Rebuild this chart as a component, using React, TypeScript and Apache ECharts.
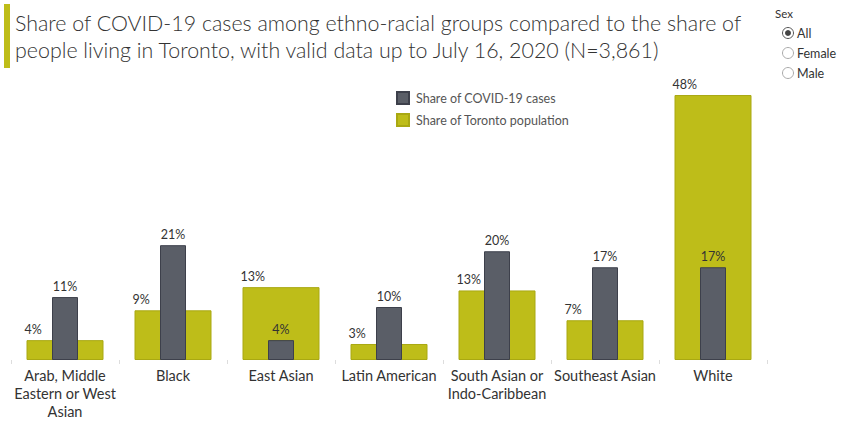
import React, { useEffect, useRef } from "react";
import * as echarts from "echarts";

const categories = [
  "Arab, Middle\nEastern or West\nAsian",
  "Black",
  "East Asian",
  "Latin American",
  "South Asian or\nIndo-Caribbean",
  "Southeast Asian",
  "White",
];
const populationShare = [3.6, 9.0, 13.2, 2.9, 12.6, 7.2, 48.0];
const casesShare = [11.4, 20.8, 3.6, 9.6, 19.7, 16.8, 16.8];
const sexOptions = ["All", "Female", "Male"];

const OLIVE = "#bebd19";
const OLIVE_BORDER = "#a9a812";
const GRAY = "#5a5e67";
const GRAY_BORDER = "#3d404b";
const FONT = "Lato";

export default function App() {
  const ref = useRef<HTMLDivElement>(null);
  useEffect(() => {
    if (!ref.current) return;
    const chart = echarts.init(ref.current, null, { renderer: "svg" });
    const fmt = (p: any) => Math.round(p.value) + "%";
    const radioGraphics: any[] = [];
    sexOptions.forEach((s, i) => {
      const cy = 33 + i * 20;
      radioGraphics.push({
        type: "circle",
        shape: { cx: 788, cy, r: 5.5 },
        style: { fill: "#fff", stroke: i === 0 ? "#555" : "#aaa", lineWidth: 1 },
      });
      if (i === 0) {
        radioGraphics.push({
          type: "circle",
          shape: { cx: 788, cy, r: 3 },
          style: { fill: "#444" },
        });
      }
      radioGraphics.push({
        type: "text",
        x: 797,
        y: cy,
        style: { text: s, fontFamily: FONT, fontSize: 12.5, fill: "#333", textVerticalAlign: "middle" },
      });
    });
    chart.setOption({
      animation: false,
      textStyle: { fontFamily: FONT },
      grid: { left: 11, right: 77, top: 84, bottom: 62 },
      legend: {
        orient: "vertical",
        left: 396,
        top: 91,
        padding: 0,
        itemWidth: 12,
        itemHeight: 12,
        itemGap: 8,
        icon: "rect",
        textStyle: { fontFamily: FONT, fontSize: 12.5, color: "#555", padding: [0, 0, 0, 2] },
        data: ["Share of COVID-19 cases", "Share of Toronto population"],
        selectedMode: false,
      },
      xAxis: [
        {
          type: "category",
          data: categories,
          axisLine: { show: false },
          axisTick: { show: true, length: 4, lineStyle: { color: "#ddd" } },
          axisLabel: {
            interval: 0,
            fontFamily: FONT,
            fontSize: 14.5,
            color: "#333",
            lineHeight: 18,
            margin: 6,
          },
        },
        { type: "category", data: categories, show: false },
      ],
      yAxis: { type: "value", min: 0, max: 50, show: false },
      series: [
        {
          name: "Share of Toronto population",
          type: "bar",
          xAxisIndex: 0,
          data: populationShare,
          barWidth: 77,
          itemStyle: { color: OLIVE, borderColor: OLIVE_BORDER, borderWidth: 1 },
          label: {
            show: true,
            position: [-2, -4],
            align: "left",
            verticalAlign: "bottom",
            formatter: fmt,
            fontFamily: FONT,
            fontSize: 12.5,
            color: "#333",
          },
        },
        {
          name: "Share of COVID-19 cases",
          type: "bar",
          xAxisIndex: 1,
          data: casesShare,
          barWidth: 26,
          itemStyle: { color: GRAY, borderColor: GRAY_BORDER, borderWidth: 1 },
          label: {
            show: true,
            position: "top",
            distance: 4,
            formatter: fmt,
            fontFamily: FONT,
            fontSize: 12.5,
            color: "#333",
          },
        },
      ],
      graphic: [
        { type: "rect", shape: { x: 4, y: 4, width: 6, height: 64 }, style: { fill: OLIVE } },
        {
          type: "text",
          x: 15,
          y: 9,
          style: {
            text:
              "Share of COVID-19 cases among ethno-racial groups compared to the share of\npeople living in Toronto, with valid data up to July 16, 2020 (N=3,861)",
            fontFamily: FONT,
            fontWeight: 300,
            fontSize: 21.4,
            lineHeight: 27,
            fill: "#333",
          },
        },
        {
          type: "text",
          x: 775,
          y: 7,
          style: { text: "Sex", fontFamily: FONT, fontSize: 11.5, fill: "#333" },
        },
        ...radioGraphics,
      ],
    });
    return () => chart.dispose();
  }, []);
  return <div ref={ref} style={{ width: 844, height: 422, position: "absolute", left: 0, top: 0 }} />;
}
